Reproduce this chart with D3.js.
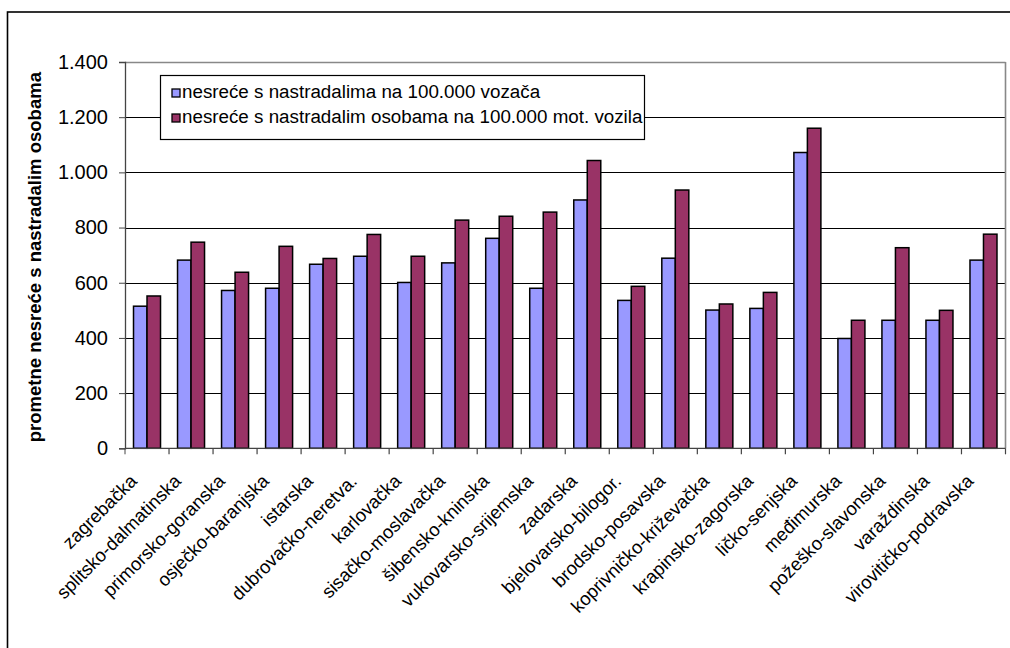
<!DOCTYPE html>
<html>
<head>
<meta charset="utf-8">
<script src="https://cdn.jsdelivr.net/npm/d3@7"></script>
<style>
  body { margin: 0; background: #fff; }
  svg { display: block; font-family: Arial, "Liberation Sans", sans-serif; }
</style>
</head>
<body>
<div id="chart"></div>
<script>
// zupanije
var categories = [
  "zagrebačka", "splitsko-dalmatinska", "primorsko-goranska", "osječko-baranjska",
  "istarska", "dubrovačko-neretva.", "karlovačka", "sisačko-moslavačka",
  "šibensko-kninska", "vukovarsko-srijemska", "zadarska", "bjelovarsko-bilogor.",
  "brodsko-posavska", "koprivničko-križevačka", "krapinsko-zagorska", "ličko-senjska",
  "međimurska", "požeško-slavonska", "varaždinska", "virovitičko-podravska"
];
var seriesNames = [
  "nesreće s nastradalima na 100.000 vozača",
  "nesreće s nastradalim osobama na 100.000 mot. vozila"
];
var vozaca = [515, 682, 572, 580, 667, 696, 601, 672, 761, 580, 900, 536, 689, 501, 507, 1072, 398, 464, 464, 682];
var vozila = [552, 747, 638, 732, 688, 775, 696, 827, 841, 856, 1043, 587, 936, 523, 565, 1160, 464, 727, 500, 776];
var yTicks = [0, 200, 400, 600, 800, 1000, 1200, 1400];
var colors = ["#9999ff", "#993366"];

var width = 1010, height = 648;
var margin = { top: 62, right: 4.5, bottom: 199.7, left: 125 };

var rows = categories.map(function (c, i) {
  return { cat: c, values: [vozaca[i], vozila[i]] };
});

var svg = d3.select("#chart").append("svg")
  .attr("width", width)
  .attr("height", height);

// outer chart border (only left & top visible)
svg.append("rect")
  .attr("x", 7.5).attr("y", 12)
  .attr("width", width + 20).attr("height", height + 20)
  .attr("fill", "none").attr("stroke", "#000").attr("stroke-width", 1.6);

var x0 = d3.scaleBand()
  .domain(categories)
  .range([margin.left, width - margin.right])
  .padding(0);

var x1 = d3.scaleBand()
  .domain([0, 1])
  .range([0, x0.bandwidth()])
  .paddingInner(0)
  .paddingOuter(0.63);

var y = d3.scaleLinear()
  .domain([0, 1400])
  .range([height - margin.bottom, margin.top]);

var fmt = function (d) { return d3.format(",")(d).replace(/,/g, "."); };

// gridlines
svg.append("g")
  .selectAll("line")
  .data(yTicks.filter(function (d) { return d > 0; }))
  .join("line")
  .attr("x1", margin.left).attr("x2", width - margin.right)
  .attr("y1", function (d) { return Math.round(y(d)) + 0.5; })
  .attr("y2", function (d) { return Math.round(y(d)) + 0.5; })
  .attr("stroke", function (d) { return d === 1400 ? "#888" : "#000"; })
  .attr("stroke-width", function (d) { return d === 1400 ? 1.6 : 1; });

// plot area right border
svg.append("line")
  .attr("x1", width - margin.right).attr("x2", width - margin.right)
  .attr("y1", margin.top).attr("y2", y(0))
  .attr("stroke", "#888").attr("stroke-width", 1.6);

// bars
svg.append("g")
  .selectAll("g")
  .data(rows)
  .join("g")
  .attr("transform", function (d) { return "translate(" + x0(d.cat) + ",0)"; })
  .selectAll("rect")
  .data(function (d) { return d.values.map(function (v, k) { return { k: k, v: v }; }); })
  .join("rect")
  .attr("x", function (d) { return x1(d.k); })
  .attr("y", function (d) { return y(d.v); })
  .attr("width", x1.bandwidth())
  .attr("height", function (d) { return y(0) - y(d.v); })
  .attr("fill", function (d) { return colors[d.k]; })
  .attr("stroke", "#000")
  .attr("stroke-width", 1.5);

// y axis
var yAxis = svg.append("g")
  .attr("transform", "translate(" + margin.left + ",0)")
  .call(d3.axisLeft(y).tickValues(yTicks).tickFormat(fmt).tickSize(6).tickPadding(11));
yAxis.select(".domain").attr("stroke", "#444").attr("stroke-width", 1.3);
yAxis.selectAll(".tick line").attr("stroke", "#444");
yAxis.selectAll("text").attr("font-size", 20).attr("fill", "#000")
  .attr("font-family", "Arial, 'Liberation Sans', sans-serif");

// x axis
var xAxis = svg.append("g")
  .attr("transform", "translate(0," + y(0) + ")");
xAxis.append("line")
  .attr("x1", margin.left).attr("x2", width - margin.right)
  .attr("stroke", "#444").attr("stroke-width", 1.3);
xAxis.selectAll(".tk")
  .data(categories.slice(1).concat(["__end"]))
  .join("line")
  .attr("class", "tk")
  .attr("x1", function (d, i) { return margin.left + (i + 1) * x0.step(); })
  .attr("x2", function (d, i) { return margin.left + (i + 1) * x0.step(); })
  .attr("y1", 0).attr("y2", 6)
  .attr("stroke", "#444").attr("stroke-width", 1.2);
xAxis.append("line")
  .attr("x1", margin.left).attr("x2", margin.left)
  .attr("y1", 0).attr("y2", 6).attr("stroke", "#444");

svg.append("g")
  .selectAll("text")
  .data(categories)
  .join("text")
  .attr("transform", function (d) {
    return "translate(" + (x0(d) + x0.bandwidth() / 2 - 9) + "," + (y(0) + 34) + ") rotate(-45)";
  })
  .attr("text-anchor", "end")
  .attr("font-size", 18.5)
  .attr("fill", "#000")
  .text(function (d) { return d; });

// y title
svg.append("text")
  .attr("transform", "translate(41," + (margin.top + (y(0) - margin.top) / 2 + 2) + ") rotate(-90)")
  .attr("text-anchor", "middle")
  .attr("font-size", 18.5)
  .attr("font-weight", "bold")
  .text("prometne nesreće s nastradalim osobama");

// legend
var legend = svg.append("g");
legend.append("rect")
  .attr("x", 160.5).attr("y", 75.5)
  .attr("width", 484).attr("height", 64)
  .attr("fill", "#fff").attr("stroke", "#000").attr("stroke-width", 1.2);
var li = legend.selectAll(".li")
  .data(seriesNames)
  .join("g")
  .attr("class", "li")
  .attr("transform", function (d, i) { return "translate(172," + (89 + i * 25) + ")"; });
li.append("rect")
  .attr("width", 8).attr("height", 8)
  .attr("fill", function (d, i) { return colors[i]; })
  .attr("stroke", "#000").attr("stroke-width", 1.3);
li.append("text")
  .attr("x", 10).attr("y", 8.5)
  .attr("font-size", 18.8)
  .text(function (d) { return d; });
</script>
</body>
</html>
